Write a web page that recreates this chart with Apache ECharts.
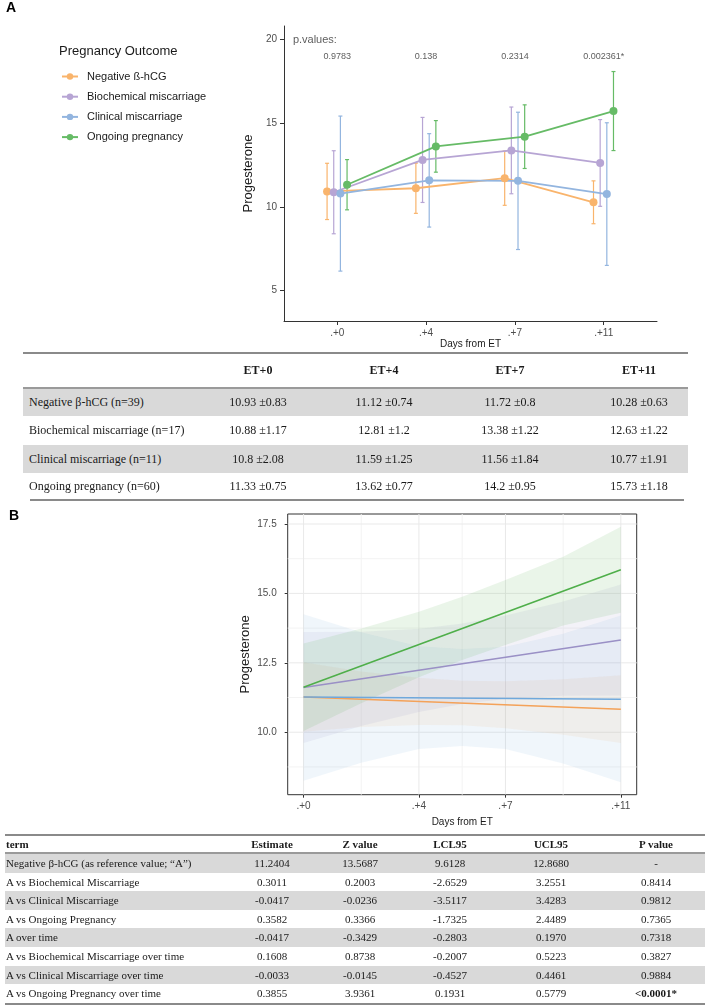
<!DOCTYPE html>
<html><head><meta charset="utf-8">
<script src="https://cdn.jsdelivr.net/npm/echarts@6/dist/echarts.min.js"></script>
<style>
html,body{margin:0;padding:0;background:#fff;}
#wrap{position:relative;width:709px;height:1005px;overflow:hidden;}
#chart{position:absolute;left:0;top:0;width:709px;height:1005px;}
.tb{position:absolute;font-family:"Liberation Serif","Times New Roman",serif;color:#1a1a1a;white-space:nowrap;}
</style></head><body>
<div id="wrap"><div id="chart"></div><div id="tables"></div></div>
<script>
// ---------- Panel A data ----------
const dayLabels = ['.+0', '.+4', '.+7', '.+11'];
const groupNames = ['Negative ß-hCG', 'Biochemical miscarriage', 'Clinical miscarriage', 'Ongoing pregnancy'];
const meanNeg = [10.93, 11.12, 11.72, 10.28];
const meanBio = [10.88, 12.81, 13.38, 12.63];
const meanCli = [10.8, 11.59, 11.56, 10.77];
const meanOng = [11.33, 13.62, 14.2, 15.73];
const seNeg = [0.83, 0.74, 0.8, 0.63];
const seBio = [1.17, 1.2, 1.22, 1.22];
const seCli = [2.08, 1.25, 1.84, 1.91];
const seOng = [0.75, 0.77, 0.95, 1.18];
// error bar ends
const lowNeg = [9.25, 9.62, 10.10, 9.00];
const highNeg = [12.61, 12.62, 13.34, 11.56];
const lowBio = [8.40, 10.27, 10.79, 10.04];
const highBio = [13.36, 15.35, 15.97, 15.22];
const lowCli = [6.17, 8.80, 7.46, 6.51];
const highCli = [15.43, 14.38, 15.66, 15.03];
const lowOng = [9.83, 12.08, 12.30, 13.37];
const highOng = [12.83, 15.16, 16.10, 18.09];
const pValues = ['0.9783', '0.138', '0.2314', '0.002361*'];
const yTicksA = [5, 10, 15, 20];

// ---------- Table A ----------
const tableAHeaders = ['ET+0', 'ET+4', 'ET+7', 'ET+11'];
const tableARows = ['Negative β-hCG (n=39)', 'Biochemical miscarriage (n=17)', 'Clinical miscarriage (n=11)', 'Ongoing pregnancy (n=60)'];

// ---------- Panel B data ----------
const daysB = [0, 4, 7, 11];
const lineX = [0, 11];
const fitNeg = [11.27, 10.83];
const fitBio = [11.61, 13.32];
const fitCli = [11.27, 11.19];
const fitOng = [11.62, 15.85];
const bandX = [0, 2, 4, 5.5, 7, 9, 11];
const bandNegLo = [10.02, 10.19, 10.26, 10.25, 10.14, 9.91, 9.61];
const bandNegHi = [12.52, 12.19, 11.96, 11.85, 11.84, 11.91, 12.05];
const bandBioLo = [9.61, 10.22, 10.73, 11.02, 11.20, 11.31, 11.32];
const bandBioHi = [13.61, 13.62, 13.73, 13.92, 14.20, 14.71, 15.32];
const bandCliLo = [8.25, 8.90, 9.40, 9.50, 9.40, 8.87, 8.20];
const bandCliHi = [14.25, 13.60, 13.10, 13.00, 13.08, 13.55, 14.20];
const bandOngLo = [10.04, 11.04, 11.98, 12.60, 13.14, 13.84, 14.30];
const bandOngHi = [13.20, 13.74, 14.34, 14.88, 15.48, 16.32, 17.40];
const yTicksB = [10, 12.5, 15, 17.5];
const yMinorB = [8.75, 11.25, 13.75, 16.25];
const xMinorB = [2, 5.5, 9];

// ---------- Table B ----------
const tableBHeaders = ['term', 'Estimate', 'Z value', 'LCL95', 'UCL95', 'P value'];
const terms = ['Negative β-hCG (as reference value; \u201cA\u201d)', 'A vs Biochemical  Miscarriage', 'A vs Clinical Miscarriage', 'A vs Ongoing Pregnancy', 'A over time', 'A vs Biochemical  Miscarriage  over time', 'A vs Clinical Miscarriage over time', 'A vs Ongoing Pregnancy  over time'];
const estimates = ['11.2404', '0.3011', '-0.0417', '0.3582', '-0.0417', '0.1608', '-0.0033', '0.3855'];
const zValues = ['13.5687', '0.2003', '-0.0236', '0.3366', '-0.3429', '0.8738', '-0.0145', '3.9361'];
const lcl95 = ['9.6128', '-2.6529', '-3.5117', '-1.7325', '-0.2803', '-0.2007', '-0.4527', '0.1931'];
const ucl95 = ['12.8680', '3.2551', '3.4283', '2.4489', '0.1970', '0.5223', '0.4461', '0.5779'];
const pValuesB = ['-', '0.8414', '0.9812', '0.7365', '0.7318', '0.3827', '0.9884', '<0.0001*'];

// ---------- styles ----------
const FONT = '"Liberation Sans", Arial, sans-serif';
const colA = ['#F9B46C', '#B7A5D4', '#93B5DF', '#66BB66'];
const colB = ['#F4A259', '#9A90C6', '#6FA8DC', '#4FAF4A'];
const ribB = ['rgba(244,162,89,0.10)', 'rgba(154,144,198,0.12)', 'rgba(111,168,220,0.10)', 'rgba(79,175,74,0.12)'];
const dodge = [-0.115, -0.04, 0.035, 0.11];

const means = [meanNeg, meanBio, meanCli, meanOng];
const lows = [lowNeg, lowBio, lowCli, lowOng];
const highs = [highNeg, highBio, highCli, highOng];
const fits = [fitNeg, fitBio, fitCli, fitOng];
const bandLo = [bandNegLo, bandBioLo, bandCliLo, bandOngLo];
const bandHi = [bandNegHi, bandBioHi, bandCliHi, bandOngHi];
const ses = [seNeg, seBio, seCli, seOng];

function errorBarRender(color) {
  return function (params, api) {
    const x = api.value(0);
    const a = api.coord([x, api.value(1)]);
    const b = api.coord([x, api.value(2)]);
    const cw = 2;
    const st = { stroke: color, lineWidth: 1.2 };
    return { type: 'group', children: [
      { type: 'line', shape: { x1: a[0], y1: a[1], x2: b[0], y2: b[1] }, style: st },
      { type: 'line', shape: { x1: a[0] - cw, y1: a[1], x2: a[0] + cw, y2: a[1] }, style: st },
      { type: 'line', shape: { x1: b[0] - cw, y1: b[1], x2: b[0] + cw, y2: b[1] }, style: st }
    ] };
  };
}
function ribbonRender(lo, hi, fill) {
  return function (params, api) {
    if (params.dataIndex !== 0) return { type: 'group', children: [] };
    const pts = [];
    for (let k = 0; k < bandX.length; k++) pts.push(api.coord([bandX[k], hi[k]]));
    for (let k = bandX.length - 1; k >= 0; k--) pts.push(api.coord([bandX[k], lo[k]]));
    return { type: 'polygon', shape: { points: pts }, style: { fill: fill } };
  };
}
function hGridRender(color) {
  return function (params, api) {
    const y = api.coord([0, api.value(1)])[1];
    const cs = params.coordSys;
    return { type: 'line', shape: { x1: cs.x, y1: y, x2: cs.x + cs.width, y2: y }, style: { stroke: color, lineWidth: 1 } };
  };
}
function vGridRender(color) {
  return function (params, api) {
    const x = api.coord([api.value(0), 10])[0];
    const cs = params.coordSys;
    return { type: 'line', shape: { x1: x, y1: cs.y, x2: x, y2: cs.y + cs.height }, style: { stroke: color, lineWidth: 1 } };
  };
}

const series = [];
// Panel A
groupNames.forEach((g, i) => {
  series.push({
    type: 'custom', name: g + ' CI', xAxisIndex: 0, yAxisIndex: 0, silent: true, z: 2,
    renderItem: errorBarRender(colA[i]),
    encode: { x: 0, y: [1, 2] },
    data: dayLabels.map((d, j) => [j + dodge[i], lows[i][j], highs[i][j]])
  });
});
groupNames.forEach((g, i) => {
  series.push({
    type: 'line', name: g, xAxisIndex: 0, yAxisIndex: 0, z: 3,
    symbol: 'circle', symbolSize: 8, showSymbol: true,
    itemStyle: { color: colA[i] },
    lineStyle: { color: colA[i], width: 1.8 },
    data: dayLabels.map((d, j) => [j + dodge[i], means[i][j]])
  });
});
series.push({
  type: 'scatter', xAxisIndex: 0, yAxisIndex: 0, symbolSize: 0, silent: true,
  data: pValues.map((p, j) => [j, 19]),
  label: { show: true, position: 'inside', formatter: (p) => pValues[p.dataIndex], fontSize: 9, color: '#333', fontFamily: FONT }
});
series.push({
  type: 'scatter', xAxisIndex: 0, yAxisIndex: 0, symbolSize: 0, silent: true,
  data: [[-0.5, 20]],
  label: { show: true, position: 'right', distance: 0, formatter: 'p.values:', fontSize: 11, color: '#333', fontFamily: FONT }
});
// Panel B
series.push({ type: 'custom', xAxisIndex: 1, yAxisIndex: 1, silent: true, z: 0, renderItem: hGridRender('#F3F3F3'), data: yMinorB.map(v => [0, v]) });
series.push({ type: 'custom', xAxisIndex: 1, yAxisIndex: 1, silent: true, z: 0, renderItem: vGridRender('#F3F3F3'), data: xMinorB.map(v => [v, 10]) });
series.push({ type: 'custom', xAxisIndex: 1, yAxisIndex: 1, silent: true, z: 0, renderItem: hGridRender('#E9E9E9'), data: yTicksB.map(v => [0, v]) });
series.push({ type: 'custom', xAxisIndex: 1, yAxisIndex: 1, silent: true, z: 0, renderItem: vGridRender('#E9E9E9'), data: daysB.map(v => [v, 10]) });
groupNames.forEach((g, i) => {
  series.push({
    type: 'custom', name: g + ' band', xAxisIndex: 1, yAxisIndex: 1, silent: true, z: 1,
    renderItem: ribbonRender(bandLo[i], bandHi[i], ribB[i]),
    data: bandX.map((x, k) => [x, bandLo[i][k], bandHi[i][k]])
  });
});
groupNames.forEach((g, i) => {
  series.push({
    type: 'line', name: g + ' fit', xAxisIndex: 1, yAxisIndex: 1, z: 3, silent: true,
    symbol: 'none', lineStyle: { color: colB[i], width: 1.6 },
    data: lineX.map((x, k) => [x, fits[i][k]])
  });
});

const axisTxt = { fontSize: 10, color: '#4D4D4D', fontFamily: FONT };
const option = {
  animation: false,
  textStyle: { fontFamily: FONT },
  title: [
    { text: 'A', left: 6, top: 1, padding: 0, textStyle: { fontSize: 14, fontWeight: 'bold', color: '#000', fontFamily: FONT } },
    { text: 'B', left: 9, top: 509, padding: 0, textStyle: { fontSize: 14, fontWeight: 'bold', color: '#000', fontFamily: FONT } },
    { text: 'Pregnancy Outcome', left: 59, top: 45, padding: 0, textStyle: { fontSize: 13, fontWeight: 'normal', color: '#1a1a1a', fontFamily: FONT } }
  ],
  legend: {
    data: groupNames, orient: 'vertical', left: 61, top: 70.5, padding: 0,
    itemWidth: 16, itemHeight: 8, itemGap: 8.2,
    selectedMode: false,
    textStyle: { fontSize: 11, color: '#1a1a1a', fontFamily: FONT, lineHeight: 12, padding: [0, 0, 0, 4] }
  },
  grid: [
    { left: 284, top: 26, width: 373, height: 295 },
    { left: 287.7, top: 514, width: 349, height: 280.7, show: true, borderColor: '#333', borderWidth: 1, backgroundColor: 'transparent' }
  ],
  xAxis: [
    { type: 'value', gridIndex: 0, min: -0.6, max: 3.6,
      axisLine: { show: true, onZero: false, lineStyle: { color: '#333', width: 1 } },
      axisTick: { show: true, customValues: [0, 1, 2, 3], length: 4, lineStyle: { color: '#333' } },
      axisLabel: Object.assign({ customValues: [0, 1, 2, 3], margin: 7, formatter: (v) => dayLabels[Math.round(v)] }, axisTxt),
      splitLine: { show: false },
      name: 'Days from ET', nameLocation: 'middle', nameGap: 18, nameTextStyle: { fontSize: 10, color: '#1a1a1a', fontFamily: FONT } },
    { type: 'value', gridIndex: 1, min: -0.55, max: 11.55,
      axisLine: { show: false, onZero: false },
      axisTick: { show: true, customValues: daysB, length: 3, lineStyle: { color: '#333' } },
      axisLabel: Object.assign({ customValues: daysB, margin: 7, formatter: (v) => dayLabels[daysB.indexOf(v)] }, axisTxt),
      splitLine: { show: false },
      name: 'Days from ET', nameLocation: 'middle', nameGap: 23, nameTextStyle: { fontSize: 10, color: '#1a1a1a', fontFamily: FONT } }
  ],
  yAxis: [
    { type: 'value', gridIndex: 0, min: 3.19, max: 20.81,
      axisLine: { show: true, onZero: false, lineStyle: { color: '#333', width: 1 } },
      axisTick: { show: true, customValues: yTicksA, length: 4, lineStyle: { color: '#333' } },
      axisLabel: Object.assign({ customValues: yTicksA, margin: 7 }, axisTxt),
      splitLine: { show: false },
      name: 'Progesterone', nameLocation: 'middle', nameGap: 27, nameRotate: 90, nameTextStyle: { fontSize: 13, color: '#1a1a1a', fontFamily: FONT } },
    { type: 'value', gridIndex: 1, min: 7.75, max: 17.86,
      axisLine: { show: false, onZero: false },
      axisTick: { show: true, customValues: yTicksB, length: 3, lineStyle: { color: '#333' } },
      axisLabel: Object.assign({ customValues: yTicksB, margin: 11, formatter: (v) => v.toFixed(1) }, axisTxt),
      splitLine: { show: false },
      name: 'Progesterone', nameLocation: 'middle', nameGap: 36, nameRotate: 90, nameTextStyle: { fontSize: 13, color: '#1a1a1a', fontFamily: FONT } }
  ],
  series: series
};
const chart = echarts.init(document.getElementById('chart'), null, { renderer: 'canvas' });
chart.setOption(option);

// ---------- HTML tables ----------
const host = document.getElementById('tables');
function box(left, top, width, height, bg) {
  const d = document.createElement('div');
  d.style.cssText = `position:absolute;left:${left}px;top:${top}px;width:${width}px;height:${height}px;background:${bg};`;
  host.appendChild(d);
}
function cell(text, left, top, width, height, align, size, bold) {
  const d = document.createElement('div');
  d.className = 'tb';
  d.textContent = text;
  d.style.cssText = `left:${left}px;top:${top}px;width:${width}px;height:${height}px;line-height:${height}px;text-align:${align};font-size:${size}px;font-weight:${bold ? 'bold' : 'normal'};`;
  host.appendChild(d);
}
// Table A
const aRowTops = [388, 416, 444.5, 473];
const aRowH = [28, 28.5, 28.5, 26];
const aColC = [258, 384, 510, 639];
aRowTops.forEach((t, r) => { if (r % 2 === 0) box(23, t, 665, aRowH[r], '#D9D9D9'); });
box(23, 352, 665, 1.6, '#8A8A8A');
box(23, 386.5, 665, 2.2, '#9A9A9A');
box(30, 498.5, 654, 2, '#8A8A8A');
tableAHeaders.forEach((h, c) => cell(h, aColC[c] - 60, 353, 120, 34, 'center', 12, true));
tableARows.forEach((name, r) => {
  cell(name, 29, aRowTops[r], 200, aRowH[r], 'left', 12, false);
  for (let c = 0; c < 4; c++) cell(`${means[r][c]} \u00b1${ses[r][c]}`, aColC[c] - 60, aRowTops[r], 120, aRowH[r], 'center', 12, false);
});
// Table B
const bTop = 854, bH = 18.6;
const bColC = [272, 360, 450, 551, 656];
for (let r = 0; r < terms.length; r++) if (r % 2 === 0) box(5, bTop + r * bH, 700, bH, '#D9D9D9');
box(5, 834, 700, 1.8, '#8A8A8A');
box(5, 852.3, 700, 2, '#9A9A9A');
box(5, 1002.5, 700, 2, '#8A8A8A');
cell(tableBHeaders[0], 6, 836, 200, 17, 'left', 11, true);
for (let c = 1; c < tableBHeaders.length; c++) cell(tableBHeaders[c], bColC[c - 1] - 50, 836, 100, 17, 'center', 11, true);
const bCols = [estimates, zValues, lcl95, ucl95, pValuesB];
terms.forEach((t, r) => {
  const top = bTop + r * bH;
  cell(t, 6, top, 260, bH, 'left', 11, false);
  bCols.forEach((col, c) => cell(col[r], bColC[c] - 50, top, 100, bH, 'center', 11, c === 4 && r === terms.length - 1));
});
</script>
</body></html>
